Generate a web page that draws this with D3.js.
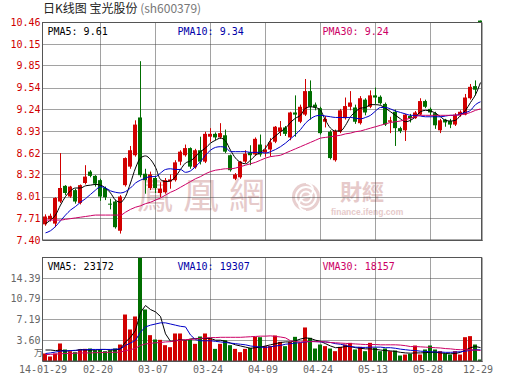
<!DOCTYPE html>
<html><head><meta charset="utf-8">
<script src="https://cdn.jsdelivr.net/npm/d3@7"></script>
<style>
html,body{margin:0;padding:0;background:#fff;}
svg{display:block;}
</style></head><body>
<svg id="c" width="530" height="391"></svg>
<script>
const dates = ["14-01-29","14-01-30","14-02-07","14-02-10","14-02-11","14-02-12","14-02-13","14-02-14","14-02-17","14-02-18","14-02-19","14-02-20","14-02-21","14-02-24","14-02-25","14-02-26","14-02-27","14-02-28","14-03-03","14-03-04","14-03-05","14-03-06","14-03-07","14-03-10","14-03-11","14-03-12","14-03-13","14-03-14","14-03-17","14-03-18","14-03-19","14-03-20","14-03-21","14-03-24","14-03-25","14-03-26","14-03-27","14-03-28","14-03-31","14-04-01","14-04-02","14-04-03","14-04-04","14-04-08","14-04-09","14-04-10","14-04-11","14-04-14","14-04-15","14-04-16","14-04-17","14-04-18","14-04-21","14-04-22","14-04-23","14-04-24","14-04-25","14-04-28","14-04-29","14-04-30","14-05-05","14-05-06","14-05-07","14-05-08","14-05-09","14-05-12","14-05-13","14-05-14","14-05-15","14-05-16","14-05-19","14-05-20","14-05-21","14-05-22","14-05-23","14-05-26","14-05-27","14-05-28","14-05-29","14-05-30","14-06-03","14-06-04","14-06-05","14-06-06","14-06-09","14-06-10","14-06-11","14-12-29"];

const open = [
7.62,7.69,7.63,7.94,8.16,8.01,8.10,7.92,8.20,8.36,
8.30,8.24,8.13,7.91,7.94,7.53,8.17,8.43,8.59,9.12,
8.33,8.13,8.27,8.06,8.07,8.22,8.24,8.50,8.59,8.69,
8.42,8.66,8.50,8.85,8.89,8.84,8.87,8.59,8.26,8.28,
8.50,8.63,8.60,8.74,8.63,8.67,8.78,8.92,8.98,8.84,
9.19,9.06,9.16,9.49,9.30,9.25,9.06,8.92,8.52,8.92,
9.11,9.27,9.26,9.04,9.37,9.27,9.43,9.41,9.31,9.06,
9.20,8.97,8.94,9.14,9.11,9.16,9.35,9.24,9.18,8.94,
9.09,9.07,9.02,9.15,9.16,9.39,9.56,10.48];
const high = [
7.76,7.77,8.00,8.62,8.17,8.16,8.12,8.18,8.45,8.38,
8.31,8.26,8.15,7.98,7.96,8.03,8.56,8.72,9.08,9.91,
8.40,8.36,8.30,8.21,8.27,8.32,8.52,8.66,8.74,8.70,
8.68,8.85,8.92,8.97,8.91,9.04,8.95,8.60,8.34,8.51,
8.66,8.73,8.84,8.88,8.73,8.83,9.00,9.07,9.00,9.20,
9.43,9.30,9.66,9.64,9.33,9.27,9.14,8.94,8.95,9.24,
9.40,9.49,9.30,9.42,9.39,9.50,9.54,9.43,9.33,9.13,
9.23,8.99,9.17,9.17,9.21,9.39,9.37,9.26,9.20,9.10,
9.10,9.10,9.18,9.22,9.45,9.59,9.64,10.48];
const low = [
7.60,7.66,7.58,7.92,8.03,7.99,7.91,7.90,8.18,8.28,
8.15,7.95,7.96,7.83,7.56,7.49,8.15,8.40,8.57,8.28,
8.05,8.10,8.06,8.00,8.05,8.12,8.22,8.45,8.57,8.40,
8.40,8.46,8.48,8.78,8.80,8.82,8.62,8.36,8.24,8.26,
8.48,8.45,8.58,8.57,8.57,8.57,8.76,8.86,8.86,8.80,
8.85,9.04,9.14,9.09,9.22,8.88,8.98,8.53,8.50,8.90,
9.09,9.22,9.03,9.02,9.15,9.25,9.31,9.30,9.00,8.90,
8.72,8.90,8.79,9.05,9.10,9.15,9.25,9.15,8.96,8.90,
8.99,8.97,9.00,9.13,9.15,9.37,9.43,10.46];
const close = [
7.73,7.74,7.99,8.13,8.06,8.15,7.94,8.17,8.29,8.30,
8.19,8.01,8.00,7.90,7.58,8.01,8.55,8.66,9.02,8.31,
8.24,8.32,8.13,8.12,8.24,8.25,8.49,8.64,8.69,8.43,
8.66,8.50,8.89,8.89,8.84,8.90,8.64,8.38,8.32,8.50,
8.61,8.59,8.82,8.60,8.67,8.77,8.99,8.98,8.89,9.19,
9.16,9.27,9.49,9.27,9.26,8.90,9.10,8.55,8.93,9.22,
9.28,9.33,9.06,9.39,9.19,9.43,9.40,9.32,9.02,9.08,
8.97,8.93,9.16,9.11,9.19,9.35,9.27,9.19,9.01,9.08,
9.05,9.02,9.16,9.20,9.40,9.55,9.51,10.46];

const ma5 = [
7.63,7.68,7.75,7.89,8.01,8.09,8.13,8.13,8.16,8.17,
8.18,8.17,8.13,8.06,7.96,7.93,8.01,8.20,8.41,8.55,
8.58,8.53,8.42,8.25,8.22,8.23,8.29,8.39,8.48,8.51,
8.57,8.64,8.69,8.76,8.80,8.83,8.79,8.66,8.55,8.49,
8.47,8.52,8.59,8.63,8.69,8.80,8.86,8.92,8.97,9.05,
9.11,9.15,9.25,9.27,9.26,9.22,9.08,8.97,8.93,8.93,
9.01,9.13,9.20,9.25,9.26,9.30,9.30,9.29,9.25,9.20,
9.15,9.10,9.06,9.08,9.13,9.20,9.22,9.21,9.18,9.13,
9.08,9.07,9.08,9.15,9.22,9.33,9.44,9.61];
const ma10 = [
7.50,7.53,7.59,7.67,7.75,7.82,7.87,7.93,7.98,8.04,
8.10,8.15,8.13,8.09,8.07,8.06,8.08,8.13,8.20,8.24,
8.27,8.29,8.29,8.34,8.39,8.40,8.39,8.39,8.35,8.37,
8.43,8.50,8.59,8.66,8.70,8.71,8.70,8.64,8.64,8.64,
8.64,8.63,8.63,8.63,8.62,8.64,8.67,8.71,8.76,8.82,
8.88,8.95,9.04,9.10,9.14,9.15,9.14,9.13,9.12,9.12,
9.12,9.12,9.11,9.10,9.12,9.15,9.21,9.26,9.26,9.24,
9.21,9.19,9.17,9.15,9.15,9.14,9.13,9.13,9.13,9.13,
9.14,9.15,9.15,9.17,9.19,9.22,9.30,9.34];
const ma30 = [
7.68,7.68,7.68,7.68,7.69,7.70,7.71,7.72,7.73,7.74,
7.75,7.75,7.75,7.75,7.75,7.75,7.79,7.83,7.86,7.88,
7.91,7.93,7.96,7.99,8.03,8.07,8.10,8.14,8.18,8.22,
8.26,8.29,8.33,8.36,8.38,8.39,8.40,8.40,8.41,8.43,
8.45,8.47,8.49,8.52,8.55,8.57,8.58,8.59,8.62,8.65,
8.68,8.71,8.74,8.77,8.80,8.83,8.84,8.85,8.86,8.87,
8.89,8.90,8.92,8.93,8.95,8.97,8.99,9.01,9.03,9.05,
9.06,9.07,9.09,9.11,9.13,9.15,9.15,9.15,9.15,9.15,
9.15,9.15,9.15,9.16,9.17,9.19,9.22,9.24];

// volume in 万 (10,000 lots)
const volume = [
1.30,0.78,1.30,3.03,1.99,1.70,1.53,1.99,2.10,2.16,
1.87,1.99,1.70,1.87,2.16,2.85,8.04,5.45,7.70,17.99,
8.91,4.47,3.72,3.66,2.74,2.39,4.76,4.76,3.55,3.72,
2.97,4.24,4.76,3.89,2.10,2.97,3.60,2.74,2.10,1.53,
2.10,2.28,4.18,4.12,2.57,2.57,4.41,3.32,2.57,3.32,
4.18,3.14,5.80,4.01,2.16,2.85,2.57,2.16,1.70,2.45,
2.85,3.14,1.99,2.45,1.70,3.14,2.28,1.70,2.16,1.70,
1.82,0.95,1.12,1.24,2.68,1.12,1.99,2.68,1.99,1.70,
1.30,1.12,1.70,1.12,4.12,4.30,2.85,0.26];
const vma5 = [
1.9,1.9,1.8,1.9,1.7,1.8,1.8,2.0,1.9,1.9,
1.9,2.0,2.0,1.9,1.9,2.1,3.3,4.1,5.3,8.4,
9.6,8.9,8.5,7.7,4.7,3.4,3.5,3.7,3.6,3.8,
3.9,3.9,3.9,3.9,3.6,3.6,3.4,3.1,2.8,2.6,
2.4,2.2,2.3,2.4,2.6,2.8,3.0,3.2,3.3,3.3,
3.5,3.8,4.0,3.9,3.6,3.4,3.0,2.6,2.3,2.35,
2.5,2.5,2.3,2.2,2.1,2.1,2.0,1.9,1.8,1.75,
1.65,1.5,1.4,1.35,1.4,1.4,1.45,1.5,1.5,1.4,
1.3,1.25,1.3,1.5,1.9,2.3,2.5,2.32];
const vma10 = [
1.3,1.4,1.55,1.7,1.75,1.8,1.85,1.9,1.95,2.0,
2.0,2.0,2.0,2.0,2.05,2.1,2.7,3.1,3.6,5.0,
5.9,6.2,6.4,6.6,6.6,6.4,6.2,6.0,5.9,4.5,
3.7,3.5,3.5,3.5,3.4,3.3,3.2,3.1,3.0,2.9,
2.8,2.6,2.5,2.4,2.35,2.45,2.6,2.7,2.9,3.0,
3.1,3.2,3.3,3.4,3.35,3.3,3.3,3.2,3.0,2.9,
2.7,2.5,2.4,2.35,2.35,2.4,2.4,2.4,2.3,2.3,
2.2,2.05,1.95,1.85,1.8,1.7,1.65,1.6,1.55,1.55,
1.5,1.5,1.55,1.6,1.7,1.85,1.95,1.93];
const vma30 = [
1.1,1.15,1.2,1.25,1.3,1.3,1.35,1.4,1.4,1.4,
1.45,1.45,1.5,1.5,1.5,1.55,1.8,1.95,2.2,2.7,
2.95,3.05,3.15,3.2,3.3,3.35,3.5,3.6,3.7,3.75,
3.8,3.9,4.0,4.05,4.05,4.1,4.1,4.1,4.1,4.1,
4.15,4.2,4.25,4.3,4.3,4.35,4.25,4.15,4.0,3.5,
3.35,3.3,3.35,3.35,3.35,3.35,3.3,3.2,3.15,3.1,
3.05,3.0,2.95,2.9,2.85,2.85,2.85,2.8,2.8,2.8,
2.8,2.75,2.65,2.5,2.5,2.45,2.4,2.35,2.3,2.25,
2.15,2.1,2.0,1.95,1.95,1.9,1.88,1.82];

const priceTicks = [7.40,7.71,8.01,8.32,8.62,8.93,9.24,9.54,9.85,10.15,10.46];
const volTicks = [3.60,7.19,10.79,14.39];
const xTickDates = ["14-01-29","14-02-20","14-03-07","14-03-24","14-04-09","14-04-24","14-05-13","14-05-28","14-12-29"];
const maNames = ["PMA5","PMA10","PMA30"];
const maLast = ["9.61","9.34","9.24"];
const vmaNames = ["VMA5","VMA10","VMA30"];
const vmaLast = ["23172","19307","18157"];

const RED = "#d10000", GREEN = "#006e00";
const lineColors = ["#000000", "#0000c8", "#cc0066"];
const textColors = ["#000000", "#0000a8", "#cc0066"];
const MONO = "'DejaVu Sans Mono', monospace";

const svg = d3.select("#c");
const L = 42.5, R = 481.5, PT = 22.5, PB = 240, VT = 257.5, VB = 361;

const x = d3.scaleBand().domain(dates).range([42.5, 482.5]).paddingInner(0.2).paddingOuter(0.1);
const bw = x.bandwidth();
const cx = d => x(d) + bw / 2 + 0.5;
const yP = d3.scaleLinear().domain([7.40, 10.46]).range([240, 22]);
const yV = d3.scaleLinear().domain([0, 17.99]).range([361, 257]);

// title
const title = svg.append("text").attr("x", 43).attr("y", 13)
  .style("font-family", "'Noto Sans CJK SC', sans-serif").style("font-size", "12px");
title.append("tspan").attr("fill", "#222").text("日K线图 宝光股份 ");
title.append("tspan").attr("fill", "#777").text("(sh600379)");

// watermark
const wm = svg.append("g").attr("fill", "#e6caca");
wm.append("text").attr("x", 137).attr("y", 209)
  .style("font-family", "'Noto Sans CJK TC', sans-serif").style("font-size", "36px")
  .style("letter-spacing", "10px").text("鳳凰網");
const lg = wm.append("g").attr("transform", "translate(306,197)");
lg.append("circle").attr("r", 14).attr("fill", "#e8cfcf");
lg.append("circle").attr("r", 10).attr("fill", "none").attr("stroke", "#fff").attr("stroke-width", 2);
lg.append("circle").attr("r", 5.5).attr("fill", "none").attr("stroke", "#fff").attr("stroke-width", 2);
lg.append("path").attr("d", "M0,-14 A7,7 0 0,1 0,0 A7,7 0 0,0 0,14").attr("fill", "none").attr("stroke", "#fff").attr("stroke-width", 2);
wm.append("text").attr("x", 340).attr("y", 200)
  .style("font-family", "'Noto Sans CJK TC', sans-serif").style("font-size", "22px").style("font-weight", "700")
  .text("財經");
wm.append("text").attr("x", 331).attr("y", 215)
  .style("font-family", "'Liberation Sans', Arial, sans-serif").style("font-size", "8.5px").style("font-weight", "700")
  .text("finance.ifeng.com");

// grids
function hgrid(vals, yScale) {
  svg.append("g").selectAll("line").data(vals).join("line")
    .attr("x1", L).attr("x2", R)
    .attr("y1", d => Math.round(yScale(d)) + 0.5).attr("y2", d => Math.round(yScale(d)) + 0.5)
    .attr("stroke", "#444").attr("stroke-dasharray", "1,1");
}
function vgrid(top, bottom) {
  svg.append("g").selectAll("line").data(xTickDates.slice(1, -1)).join("line")
    .attr("x1", d => cx(d)).attr("x2", d => cx(d))
    .attr("y1", top).attr("y2", bottom)
    .attr("stroke", "#444").attr("stroke-dasharray", "1,1");
}
hgrid(priceTicks.slice(1, -1), yP);
vgrid(PT, PB);
hgrid(volTicks, yV);
vgrid(VT, VB);

// candles
const idx = d3.range(dates.length);
const cg = svg.append("g");
cg.selectAll("line").data(idx).join("line")
  .attr("x1", i => cx(dates[i])).attr("x2", i => cx(dates[i]))
  .attr("y1", i => yP(high[i])).attr("y2", i => yP(low[i]))
  .attr("stroke", i => close[i] >= open[i] ? RED : GREEN).attr("stroke-width", 1);
cg.selectAll("rect").data(idx).join("rect")
  .attr("x", i => x(dates[i])).attr("width", bw)
  .attr("y", i => yP(Math.max(open[i], close[i])))
  .attr("height", i => Math.max(1, Math.abs(yP(open[i]) - yP(close[i]))))
  .attr("fill", i => close[i] >= open[i] ? RED : GREEN);

// MA lines
const pLine = d3.line().x((v, i) => cx(dates[i])).y(v => yP(v)).curve(d3.curveMonotoneX);
[ma5, ma10, ma30].forEach((arr, k) => {
  svg.append("path").attr("d", pLine(arr)).attr("fill", "none")
    .attr("stroke", lineColors[k]).attr("stroke-width", 1);
});

// volume bars
svg.append("g").selectAll("rect").data(idx).join("rect")
  .attr("x", i => x(dates[i])).attr("width", bw)
  .attr("y", i => yV(Math.min(volume[i], 17.99)))
  .attr("height", i => VB - yV(Math.min(volume[i], 17.99)))
  .attr("fill", i => close[i] >= open[i] ? RED : GREEN);

const vLine = d3.line().x((v, i) => cx(dates[i])).y(v => yV(v));
[vma5, vma10, vma30].forEach((arr, k) => {
  svg.append("path").attr("d", vLine(arr)).attr("fill", "none")
    .attr("stroke", lineColors[k]).attr("stroke-width", 1);
});

// frames
function frame(top, bottom) {
  svg.append("rect").attr("x", L).attr("y", top).attr("width", R - L).attr("height", bottom - top)
    .attr("fill", "none").attr("stroke", "#555").attr("stroke-width", 1);
  svg.append("line").attr("x1", R + 0.5).attr("x2", R + 0.5).attr("y1", top).attr("y2", bottom + 1)
    .attr("stroke", "#555").attr("stroke-width", 1);
  svg.append("line").attr("x1", L).attr("x2", R + 1).attr("y1", bottom + 0.5).attr("y2", bottom + 0.5)
    .attr("stroke", "#555").attr("stroke-width", 1);
}
frame(PT, PB);
frame(VT, VB);

// axes
const ay = svg.append("g").attr("transform", `translate(${L},0)`)
  .call(d3.axisLeft(yP).tickValues(priceTicks).tickSize(0).tickPadding(2).tickFormat(d3.format(".2f")));
ay.select(".domain").remove();
ay.selectAll("text").attr("fill", RED).style("font-family", MONO).style("font-size", "10px");

const av = svg.append("g").attr("transform", `translate(${L},0)`)
  .call(d3.axisLeft(yV).tickValues(volTicks).tickSize(0).tickPadding(2).tickFormat(d3.format(".2f")));
av.select(".domain").remove();
av.selectAll("text").attr("fill", "#666").style("font-family", MONO).style("font-size", "10px");
svg.append("text").attr("x", 43).attr("y", 356).attr("text-anchor", "end").attr("fill", "#666")
  .style("font-family", "'Noto Sans CJK SC', sans-serif").style("font-size", "9px").text("万");

const ax = svg.append("g").attr("transform", `translate(0,${VB})`)
  .call(d3.axisBottom(x).tickValues(xTickDates).tickSize(0).tickPadding(5)
    .tickFormat((d, i) => i === 0 ? d : d.slice(3)));
ax.select(".domain").remove();
ax.selectAll("text").attr("fill", "#666").attr("x", -2).style("font-family", MONO).style("font-size", "10px");

// legends
const legX = [47.5, 177.5, 322.5];
maNames.forEach((n, k) => {
  svg.append("text").attr("x", legX[k]).attr("y", 35).attr("fill", textColors[k])
    .style("font-family", MONO).style("font-size", "10px").text(`${n}: ${maLast[k]}`);
});
vmaNames.forEach((n, k) => {
  svg.append("text").attr("x", legX[k]).attr("y", 270).attr("fill", textColors[k])
    .style("font-family", MONO).style("font-size", "10px").text(`${n}: ${vmaLast[k]}`);
});
</script>
</body></html>
